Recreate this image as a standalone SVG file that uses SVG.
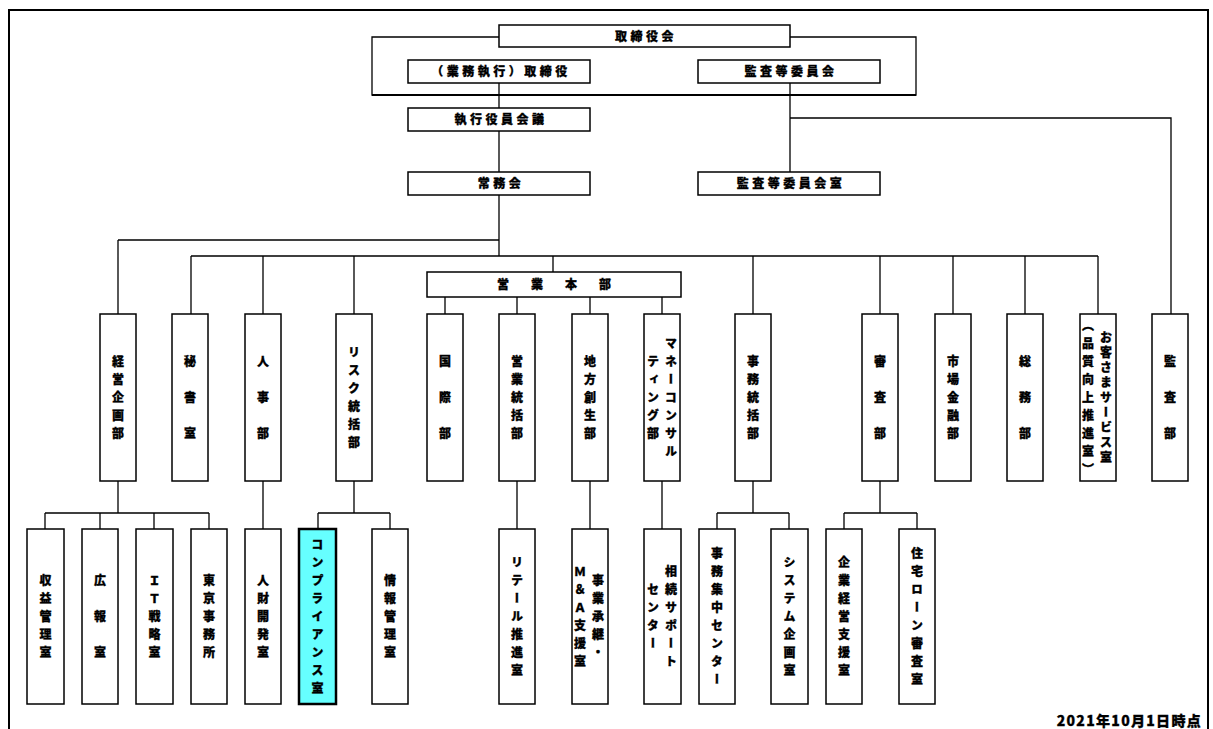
<svg xmlns="http://www.w3.org/2000/svg" width="1213" height="729" viewBox="0 0 1213 729">
<style>
.bg{fill:#fff}
rect.b{fill:#fff;stroke:#000;stroke-width:1.5}
rect.hl{fill:#66ffff;stroke:#000;stroke-width:2.5}
.c path{fill:none;stroke:#000;stroke-width:1.3}
.frame{fill:none;stroke:#000;stroke-width:2}
text{font-family:"Noto Sans CJK JP","Noto Sans CJK SC",sans-serif;font-weight:900;font-size:12px;fill:#000;stroke:#000;stroke-width:0.3}
.h{text-anchor:middle;letter-spacing:3.5px}
.v{writing-mode:vertical-rl;text-anchor:middle;letter-spacing:6px}
.v3{writing-mode:vertical-rl;text-anchor:middle;letter-spacing:24px}
.vs{writing-mode:vertical-rl;text-anchor:middle;letter-spacing:3px}
.date{text-anchor:end;font-size:14px;letter-spacing:1.3px}
</style>
<rect class="bg" x="0" y="0" width="1213" height="729"/>
<path class="frame" d="M9,729 V10 H1208 V729"/>
<g class="c" id="connectors">
<path d="M499,37 H372 V95 H916 V37 H790"/>
<path d="M372,95 H916" style="stroke-width:2"/>
<path d="M499,83 V108 M499,131 V172 M790,83 V172 M790,118 H1171 V314"/>
<path d="M499,195 V256 M118,240 H499 M118,240 V314 M191,256 H1098"/>
<path d="M191,256 V314 M263,256 V314 M354,256 V314 M753,256 V314 M880,256 V314 M953,256 V314 M1025,256 V314 M1098,256 V314"/>
<path d="M553,256 V272 M445,297 V314 M517,297 V314 M590,297 V314 M662,297 V314"/>
<path d="M118,481 V513 M45,513 H209 M45,513 V529 M100,513 V529 M154,513 V529 M209,513 V529"/>
<path d="M263,481 V529 M354,481 V513 M318,513 H390 M318,513 V529 M390,513 V529"/>
<path d="M517,481 V529 M590,481 V529 M662,481 V529"/>
<path d="M753,481 V513 M717,513 H789 M717,513 V529 M789,513 V529"/>
<path d="M880,481 V513 M844,513 H917 M844,513 V529 M917,513 V529"/>
</g>
<g id="n-torishimariyakukai"><rect class="b" x="499" y="25" width="291" height="22"/><text class="h" x="646" y="41">取締役会</text></g>
<g id="n-gyomushikko"><rect class="b" x="408" y="60" width="182" height="23"/><text class="h" x="501" y="76">（業務執行）取締役</text></g>
<g id="n-kansatoiinkai"><rect class="b" x="698" y="60" width="182" height="23"/><text class="h" x="791" y="76">監査等委員会</text></g>
<g id="n-shikkoyakuinkaigi"><rect class="b" x="408" y="108" width="182" height="23"/><text class="h" x="501" y="124">執行役員会議</text></g>
<g id="n-jomukai"><rect class="b" x="408" y="172" width="182" height="23"/><text class="h" x="501" y="188">常務会</text></g>
<g id="n-kansatoiinkaishitsu"><rect class="b" x="698" y="172" width="182" height="23"/><text class="h" x="791" y="188">監査等委員会室</text></g>
<g id="n-eigyohonbu"><rect class="b" x="427" y="272" width="254" height="25"/><text class="h" x="565" y="289" style="letter-spacing:22px">営業本部</text></g>
<g id="n-keiei"><rect class="b" x="100" y="314" width="36" height="167"/><text class="v" x="118" y="400.5">経営企画部</text></g>
<g id="n-hisho"><rect class="b" x="172" y="314" width="36" height="167"/><text class="v3" x="190" y="409.5">秘書室</text></g>
<g id="n-jinji"><rect class="b" x="245" y="314" width="36" height="167"/><text class="v3" x="263" y="409.5">人事部</text></g>
<g id="n-risk"><rect class="b" x="336" y="314" width="36" height="167"/><text class="v" x="354" y="400.5">リスク統括部</text></g>
<g id="n-kokusai"><rect class="b" x="427" y="314" width="36" height="167"/><text class="v3" x="445" y="409.5">国際部</text></g>
<g id="n-eigyotokatsu"><rect class="b" x="499" y="314" width="36" height="167"/><text class="v" x="517" y="400.5">営業統括部</text></g>
<g id="n-chihososei"><rect class="b" x="572" y="314" width="36" height="167"/><text class="v" x="590" y="400.5">地方創生部</text></g>
<g id="n-money"><rect class="b" x="644" y="314" width="36" height="167"/><text class="v" x="671" y="400.5">マネーコンサル</text><text class="v" x="653" y="400.5">ティング部</text></g>
<g id="n-jimutokatsu"><rect class="b" x="735" y="314" width="36" height="167"/><text class="v" x="753" y="400.5">事務統括部</text></g>
<g id="n-shinsa"><rect class="b" x="862" y="314" width="36" height="167"/><text class="v3" x="880" y="409.5">審査部</text></g>
<g id="n-shijokinyu"><rect class="b" x="935" y="314" width="36" height="167"/><text class="v" x="953" y="400.5">市場金融部</text></g>
<g id="n-somu"><rect class="b" x="1007" y="314" width="36" height="167"/><text class="v3" x="1025" y="409.5">総務部</text></g>
<g id="n-okyakusama"><rect class="b" x="1080" y="314" width="36" height="167"/><text class="vs" x="1106" y="399">お客さまサービス室</text><text class="v" x="1088" y="400.5">（品質向上推進室）</text></g>
<g id="n-kansa"><rect class="b" x="1152" y="314" width="36" height="167"/><text class="v3" x="1170" y="409.5">監査部</text></g>
<g id="n-shueki"><rect class="b" x="27" y="529" width="37" height="175"/><text class="v" x="45.5" y="619.5">収益管理室</text></g>
<g id="n-koho"><rect class="b" x="82" y="529" width="36" height="175"/><text class="v3" x="100" y="628.5">広報室</text></g>
<g id="n-it"><rect class="b" x="136" y="529" width="37" height="175"/><text class="v" x="154.5" y="619.5">ＩＴ戦略室</text></g>
<g id="n-tokyo"><rect class="b" x="191" y="529" width="36" height="175"/><text class="v" x="209" y="619.5">東京事務所</text></g>
<g id="n-jinzai"><rect class="b" x="245" y="529" width="36" height="175"/><text class="v" x="263" y="619.5">人財開発室</text></g>
<g id="n-compliance"><rect class="hl" x="299" y="529" width="37" height="175"/><text class="v" x="317.5" y="619.5">コンプライアンス室</text></g>
<g id="n-joho"><rect class="b" x="372" y="529" width="36" height="175"/><text class="v" x="390" y="619.5">情報管理室</text></g>
<g id="n-retail"><rect class="b" x="499" y="529" width="36" height="175"/><text class="v" x="517" y="619.5">リテール推進室</text></g>
<g id="n-jigyoshokei"><rect class="b" x="572" y="529" width="36" height="175"/><text class="v" x="598" y="619.5">事業承継・</text><text class="v" x="580" y="619.5">Ｍ＆Ａ支援室</text></g>
<g id="n-sozoku"><rect class="b" x="644" y="529" width="37" height="175"/><text class="v" x="671" y="619.5">相続サポート</text><text class="v" x="653" y="619.5">センター</text></g>
<g id="n-jimushuchu"><rect class="b" x="699" y="529" width="36" height="175"/><text class="v" x="717" y="619.5">事務集中センター</text></g>
<g id="n-system"><rect class="b" x="771" y="529" width="37" height="175"/><text class="v" x="789.5" y="619.5">システム企画室</text></g>
<g id="n-kigyokeiei"><rect class="b" x="826" y="529" width="36" height="175"/><text class="v" x="844" y="619.5">企業経営支援室</text></g>
<g id="n-jutakuloan"><rect class="b" x="899" y="529" width="36" height="175"/><text class="v" x="917" y="619.5">住宅ローン審査室</text></g>
<text class="date" x="1202" y="726">2021年10月1日時点</text>
</svg>
